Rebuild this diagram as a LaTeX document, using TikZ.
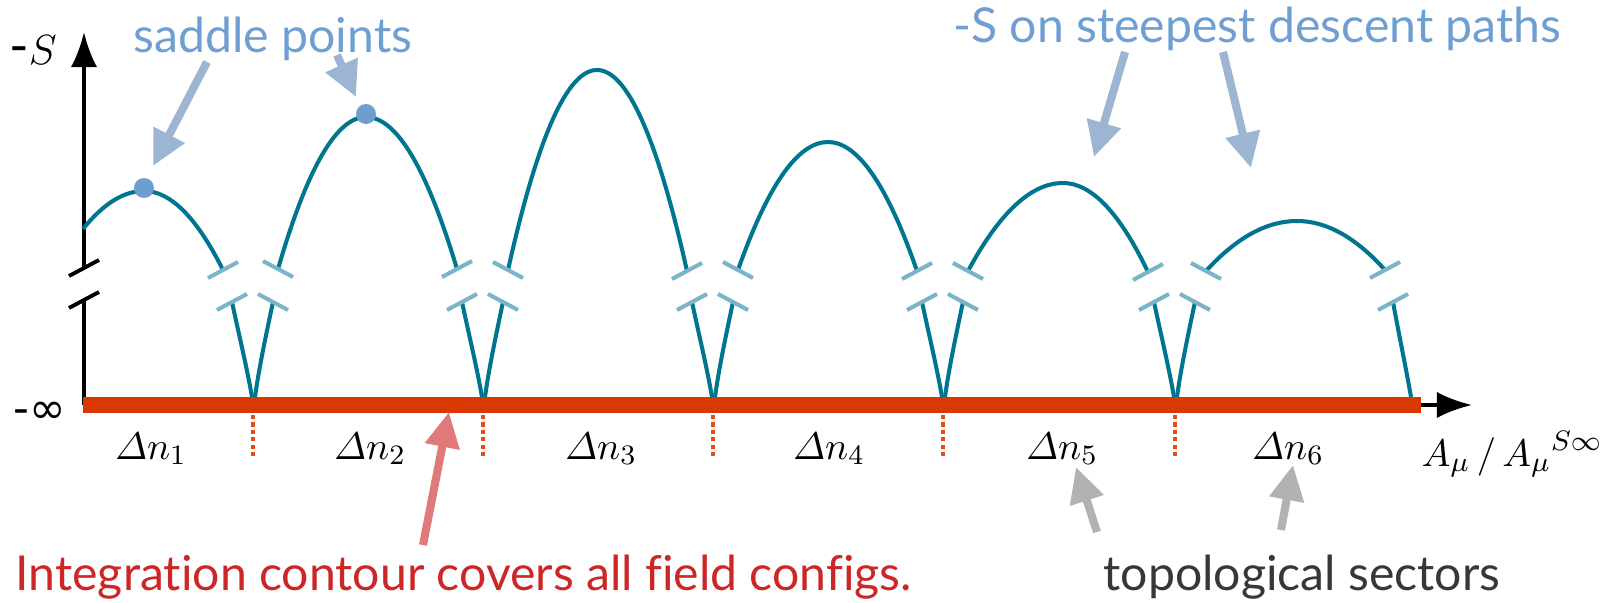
\documentclass[tikz,border=0pt]{standalone}
\usepackage{amsmath}
\usepackage[no-math]{fontspec}
\newfontfamily\notefont[Ligatures={NoCommon,NoDiscretionary}]{Lato}
\newfontfamily\symfont{DejaVu Sans}
\usetikzlibrary{arrows.meta}
\definecolor{pathteal}{RGB}{0,117,143}
\definecolor{breakblue}{RGB}{122,180,200}
\definecolor{dotblue}{RGB}{110,158,208}
\definecolor{noteblue}{RGB}{111,159,210}
\definecolor{arrowblue}{RGB}{155,181,210}
\definecolor{contourred}{RGB}{217,56,0}
\definecolor{sectorred}{RGB}{232,72,20}
\definecolor{textred}{RGB}{205,38,38}
\definecolor{arrowred}{RGB}{224,122,122}
\definecolor{arrowgray}{RGB}{178,178,178}
\definecolor{textgray}{RGB}{55,55,55}

\begin{document}
\begin{tikzpicture}[
  x=0.01cm, y=-0.01cm,
  curve/.style={draw=pathteal, line width=1.15pt},
  brk/.style={draw=breakblue, line width=1.15pt},
  axisline/.style={line width=1.1pt, -{Latex[length=10pt,width=7.5pt]}},
  pointer/.style={line width=2.3pt, -{Triangle[length=10pt,width=9.5pt]}},
  sector/.style={draw=sectorred, line width=1pt, dash pattern=on 1.2pt off 0.9pt},
  note/.style={font=\notefont\fontsize{13.7}{16}\selectfont, inner sep=0pt},
  sectorlbl/.style={font=\fontsize{10.8}{12}\selectfont, inner sep=0pt, anchor=base},
  >=Latex
]
\useasboundingbox (0,0) rectangle (1605,603);

\coordinate (origin) at (84,405);
\coordinate (ytop) at (84,32);
\coordinate (ybrkhi) at (84,268);
\coordinate (ybrklo) at (84,300);
\coordinate (xtip) at (1472,405);
\coordinate (xend) at (1421,405);

\draw[axisline] (ybrkhi) -- (ytop);
\draw[line width=1.1pt] (ybrklo) -- (origin);
\draw[line width=1.1pt] (ybrkhi) ++(-15,8) -- ++(30,-16);
\draw[line width=1.1pt] (ybrklo) ++(-15,8) -- ++(30,-16);
\draw[axisline] (origin) -- (xtip);
\draw[draw=contourred, line width=4.55pt] (83,405) -- (xend);

\foreach \b in {253,483,713,943,1175} {
  \draw[curve] (\b-21,302) .. controls (\b-14,335) and (\b-6,368) .. (\b-1,397);
  \draw[curve] (\b+20,302) .. controls (\b+13,335) and (\b+6,368) .. (\b+2,397);
  \draw[brk] (\b-21,302) ++(-15,8) -- ++(30,-16);
  \draw[brk] (\b+20,302) ++(-15,-8) -- ++(30,16);
  \draw[sector] (\b,415) -- (\b,456);
}
\draw[curve] (1393,302) .. controls (1399,335) and (1406,368) .. (1411,397);
\draw[brk] (1393,302) ++(-15,8) -- ++(30,-16);

\foreach \xl/\yl/\xp/\yp/\xr/\yr in {83/229/144/191/223/270, 278/269/366/117/457/269,
    508/270/597/70/687/271, 738/270/828/142/917/271,
    968/271/1063/183/1148/272, 1206/271/1297/221/1385/270} {
  \draw[curve] (\xl,\yl) .. controls ({\xl+(\xp-\xl)/3},{\yl+2*(\yp-\yl)/3}) and ({\xp-(\xp-\xl)/3},\yp) .. (\xp,\yp)
    .. controls ({\xp+(\xr-\xp)/3},\yp) and ({\xr-(\xr-\xp)/3},{\yr+2*(\yp-\yr)/3}) .. (\xr,\yr);
  \draw[brk] (\xr,\yr) ++(-15,8) -- ++(30,-16);
}
\foreach \xl/\yl in {278/269, 508/270, 738/270, 968/271, 1206/271}
  \draw[brk] (\xl,\yl) ++(-15,-8) -- ++(30,16);

\fill[dotblue] (144,188) circle (10);
\fill[dotblue] (366,114) circle (10);

\node[font=\fontsize{12.5}{14}\selectfont, inner sep=0pt] (ylbl) at (33,50) {{\notefont\fontsize{15}{16}\selectfont -}$S$};
\node[font=\symfont\fontsize{12.5}{14}\selectfont, inner sep=0pt] (minf) at (40,413) {-∞};
\node[font=\fontsize{11.3}{13}\selectfont, inner sep=0pt, anchor=base west] (xlbl) at (1421,466)
  {$A_\mu\,/\,{A_\mu}^{S\infty}$};

\node[sectorlbl] (dn1) at (151,459) {$\varDelta n_1$};
\node[sectorlbl] (dn2) at (370,459) {$\varDelta n_2$};
\node[sectorlbl] (dn3) at (601,459) {$\varDelta n_3$};
\node[sectorlbl] (dn4) at (829,459) {$\varDelta n_4$};
\node[sectorlbl] (dn5) at (1062,459) {$\varDelta n_5$};
\node[sectorlbl] (dn6) at (1288,459) {$\varDelta n_6$};

\node[note, text=noteblue, anchor=base west] (saddlelbl) at (133,52) {saddle points};
\node[note, text=noteblue, anchor=base east] (descentlbl) at (1562,42) {-S on steepest descent paths};
\node[note, text=textred, anchor=base west] (contourlbl) at (15,590) {Integration contour covers all field configs.};
\node[note, text=textgray, anchor=base west] (topolbl) at (1103,590) {topological sectors};

\coordinate (sa1) at (207,62);  \coordinate (sb1) at (153,166);
\coordinate (sa2) at (337,55);  \coordinate (sb2) at (356,97);
\coordinate (da1) at (1125,52); \coordinate (db1) at (1094,157);
\coordinate (da2) at (1223,52); \coordinate (db2) at (1251,168);
\coordinate (ca) at (423,545);  \coordinate (cb) at (449,412);
\coordinate (ta1) at (1097,532); \coordinate (tb1) at (1076,467);
\coordinate (ta2) at (1281,530); \coordinate (tb2) at (1293,465);

\draw[pointer, arrowblue] (sa1) -- (sb1);
\draw[pointer, arrowblue] (sa2) -- (sb2);
\draw[pointer, arrowblue] (da1) -- (db1);
\draw[pointer, arrowblue] (da2) -- (db2);
\draw[pointer, arrowred] (ca) -- (cb);
\draw[pointer, arrowgray] (ta1) -- (tb1);
\draw[pointer, arrowgray] (ta2) -- (tb2);
\end{tikzpicture}
\end{document}
